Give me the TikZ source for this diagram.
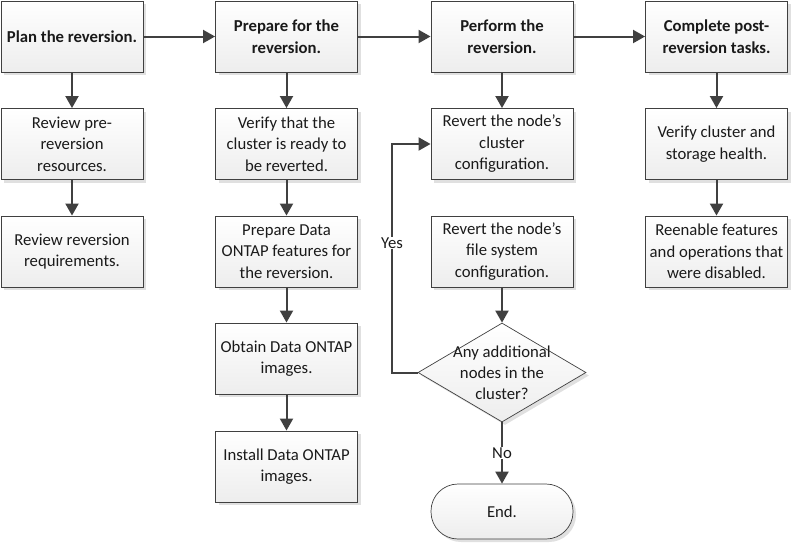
\documentclass[tikz,border=0pt]{standalone}
\usepackage{fontspec}
\setmainfont{Carlito}
\usetikzlibrary{shapes.geometric,shadows,arrows.meta}
\definecolor{edge}{HTML}{404040}
\definecolor{txt}{HTML}{1A1A1A}
\begin{document}
\begin{tikzpicture}[x=1pt,y=-1pt,
  shadowed/.style={drop shadow={shadow xshift=3pt,shadow yshift=-3pt,fill=black!12,opacity=1}},
  box/.style={draw=edge,line width=0.9pt,top color=white,bottom color=black!7,
    minimum width=142pt,minimum height=71pt,inner sep=2pt,align=center,text=txt,
    font=\fontsize{16.7}{21.5}\selectfont,shadowed},
  head/.style={box,font=\bfseries\fontsize{16.7}{21.5}\selectfont},
  arr/.style={draw=edge,line width=2pt,-{Triangle[width=13pt,length=12pt]}},
  lbl/.style={fill=white,inner sep=1pt,text=txt,font=\fontsize{16.7}{21.5}\selectfont}]
\useasboundingbox (0,0) rectangle (792,542);
% column 1
\node[head] (a1) at (72,36.5) {Plan the reversion.};
\node[box] (a2) at (72,144) {Review pre-\\reversion\\resources.};
\node[box] (a3) at (72,251.5) {Review reversion\\requirements.};
% column 2
\node[head] (b1) at (286.5,36.5) {Prepare for the\\reversion.};
\node[box] (b2) at (286.5,144) {Verify that the\\cluster is ready to\\be reverted.};
\node[box] (b3) at (286.5,251.5) {Prepare Data\\ONTAP features for\\the reversion.};
\node[box] (b4) at (286.5,358.5) {Obtain Data ONTAP\\images.};
\node[box] (b5) at (286.5,466.5) {Install Data ONTAP\\images.};
% column 3
\node[head] (c1) at (502,36.5) {Perform the\\reversion.};
\node[box] (c2) at (502,144) {Revert the node’s\\cluster\\configuration.};
\node[box] (c3) at (502,251.5) {Revert the node’s\\file system\\configuration.};
\node[diamond,draw=edge,line width=0.7pt,top color=white,bottom color=black!7,
  minimum width=168pt,minimum height=99pt,inner sep=0pt,shadowed] (dec) at (502,372.5) {};
\node[align=center,text=txt,font=\fontsize{16.7}{21}\selectfont,inner sep=0pt] (dectext) at (502,372.5) {Any additional\\nodes in the\\cluster?};
\node[box,rounded corners=27pt,minimum height=55pt,line width=0.7pt] (end) at (502,511.5) {End.};
% column 4
\node[head] (d1) at (716.5,36.5) {Complete post-\\reversion tasks.};
\node[box] (d2) at (716.5,144) {Verify cluster and\\storage health.};
\node[box] (d3) at (716.5,251.5) {Reenable features\\and operations that\\were disabled.};
% connectors
\draw[arr] (a1) -- (b1);
\draw[arr] (b1) -- (c1);
\draw[arr] (c1) -- (d1);
\draw[arr] (a1) -- (a2);
\draw[arr] (a2) -- (a3);
\draw[arr] (b1) -- (b2);
\draw[arr] (b2) -- (b3);
\draw[arr] (b3) -- (b4);
\draw[arr] (b4) -- (b5);
\draw[arr] (c1) -- (c2);
\draw[arr] (c3) -- (dec);
\draw[arr] (d1) -- (d2);
\draw[arr] (d2) -- (d3);
\coordinate (ycorner) at (392,372.5);
\draw[arr] (dec.west) -- (ycorner) |- (c2.west);
\node[lbl] (yes) at (392,243) {Yes};
\draw[arr] (dec.south) -- (end.north);
\node[lbl] (no) at (502,453) {No};
\end{tikzpicture}
\end{document}
